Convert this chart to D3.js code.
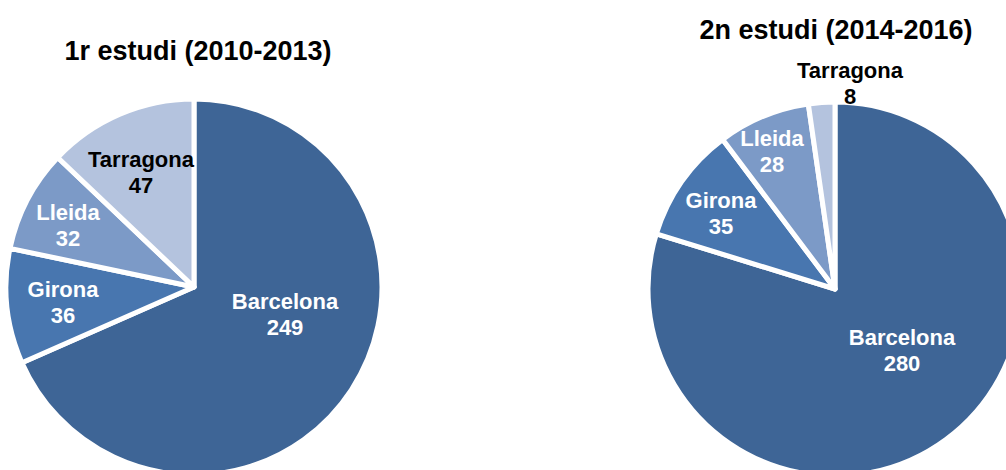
<!DOCTYPE html>
<html>
<head>
<meta charset="utf-8">
<script src="https://cdn.jsdelivr.net/npm/d3@7"></script>
<style>
  html, body { margin: 0; padding: 0; background: #ffffff; }
  svg { display: block; }
  text { font-family: "Liberation Sans", Arial, sans-serif; font-weight: bold; }
</style>
</head>
<body>
<svg id="chart" width="1006" height="470"></svg>
<script>
// ---- data ----
const categories = ["Barcelona", "Girona", "Lleida", "Tarragona"];
const study1Title = "1r estudi (2010-2013)";
const study1Values = [249, 36, 32, 47];
const study2Title = "2n estudi (2014-2016)";
const study2Values = [280, 35, 28, 8];

// ---- styling / layout ----
const sliceColors = ["#3E6596", "#4876AF", "#7C9AC7", "#B4C3DE"];
const labelColors = ["#ffffff", "#ffffff", "#ffffff", "#000000"];

const pies = [
  { title: study1Title, values: study1Values, cx: 194, cy: 287, r: 188, titleX: 198, titleY: 60,
    labelOffsets: [[91, 22], [-131, 10], [-126, -67], [-53, -120]] },
  { title: study2Title, values: study2Values, cx: 835, cy: 289, r: 187, titleX: 836, titleY: 39,
    labelOffsets: [[67, 56], [-114, -81], [-63, -143], [15, -211]] }
];

const svg = d3.select("#chart");
const color = d3.scaleOrdinal().domain(categories).range(sliceColors);
const textColor = d3.scaleOrdinal().domain(categories).range(labelColors);

const pieGen = d3.pie().sort(null).value(d => d.value);

pies.forEach(p => {
  const data = categories.map((c, i) => ({ name: c, value: p.values[i], off: p.labelOffsets[i] }));
  const arcs = pieGen(data);
  const arcGen = d3.arc().innerRadius(0).outerRadius(p.r);

  const g = svg.append("g").attr("transform", `translate(${p.cx},${p.cy})`);
  g.selectAll("path.slice")
    .data(arcs)
    .join("path")
    .attr("class", "slice")
    .attr("d", arcGen)
    .attr("fill", d => color(d.data.name))
    .attr("stroke", "#ffffff")
    .attr("stroke-width", 5)
    .attr("stroke-linejoin", "round");

  const labels = g.selectAll("text.lbl")
    .data(arcs)
    .join("text")
    .attr("class", "lbl")
    .attr("text-anchor", "middle")
    .attr("font-size", 22)
    .attr("fill", d => textColor(d.data.name))
    .attr("transform", d => `translate(${d.data.off[0]},${d.data.off[1]})`);
  labels.append("tspan").attr("x", 0).attr("y", 0).text(d => d.data.name);
  labels.append("tspan").attr("x", 0).attr("y", 26).text(d => d.data.value);

  svg.append("text")
    .attr("x", p.titleX)
    .attr("y", p.titleY)
    .attr("text-anchor", "middle")
    .attr("font-size", 27)
    .attr("fill", "#000000")
    .text(p.title);
});
</script>
</body>
</html>
